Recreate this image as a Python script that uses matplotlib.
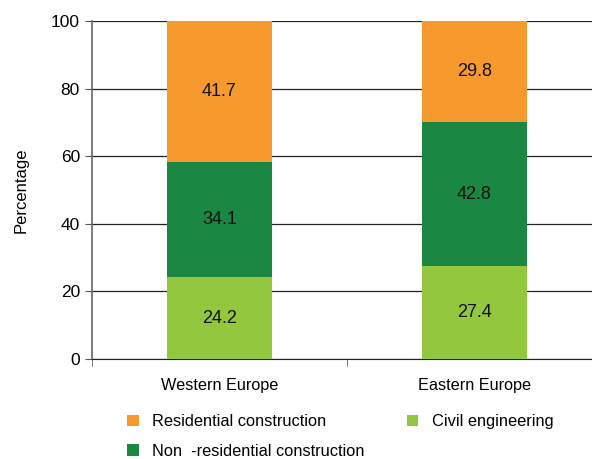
import matplotlib.pyplot as plt

plt.rcParams['font.family'] = ['Liberation Sans', 'DejaVu Sans']

regions = ['Western Europe', 'Eastern Europe']
civil = [24.2, 27.4]
non_residential = [34.1, 42.8]
residential = [41.7, 29.8]

fig = plt.figure(figsize=(5.92, 4.59), dpi=100)
ax = fig.add_axes([0.155, 0.218, 0.862, 0.736])

x = [0, 1]
w = 0.41
b1 = ax.bar(x, civil, w, color='#92c73e', label='Civil engineering', zorder=3)
bottom2 = civil
b2 = ax.bar(x, non_residential, w, bottom=bottom2, color='#1a8743',
            label='Non  -residential construction', zorder=3)
bottom3 = [c + n for c, n in zip(civil, non_residential)]
b3 = ax.bar(x, residential, w, bottom=bottom3, color='#f79a2e',
            label='Residential construction', zorder=3)

for bars, vals in [(b1, civil), (b2, non_residential), (b3, residential)]:
    for rect, v in zip(bars, vals):
        ax.text(rect.get_x() + rect.get_width() / 2, rect.get_y() + rect.get_height() / 2,
                f'{v:.1f}', ha='center', va='center', fontsize=13, color='#111111', zorder=4)

ax.set_xlim(-0.5, 1.5)
ax.set_ylim(0, 100)
ax.set_yticks(range(0, 101, 20))
ax.yaxis.grid(True, color='#222222', linewidth=0.9, zorder=0)
ax.set_xticks(x)
ax.set_xticklabels(regions, fontsize=11.7)
ax.set_xticks([-0.5, 0.5], minor=True)
ax.tick_params(axis='x', which='major', length=0, pad=14)
ax.tick_params(axis='x', which='minor', length=5, color='#555555')
ax.tick_params(axis='y', labelsize=12.5, length=5, color='#555555')
ax.set_ylabel('Percentage', fontsize=12, labelpad=16)

for s in ['top', 'right']:
    ax.spines[s].set_visible(False)
ax.spines['left'].set_color('#666666')
ax.spines['left'].set_linewidth(1.2)
ax.spines['bottom'].set_color('#222222')

handles = [b3, b2, b1]
labels = [h.get_label() for h in handles]
fig.legend(handles, labels, ncol=2, loc='upper left', bbox_to_anchor=(0.190, 0.130),
           frameon=False, fontsize=11.8, handlelength=0.7, handleheight=0.7,
           columnspacing=2.6, labelspacing=0.9, handletextpad=0.8)

fig.savefig('out.png', dpi=100)
